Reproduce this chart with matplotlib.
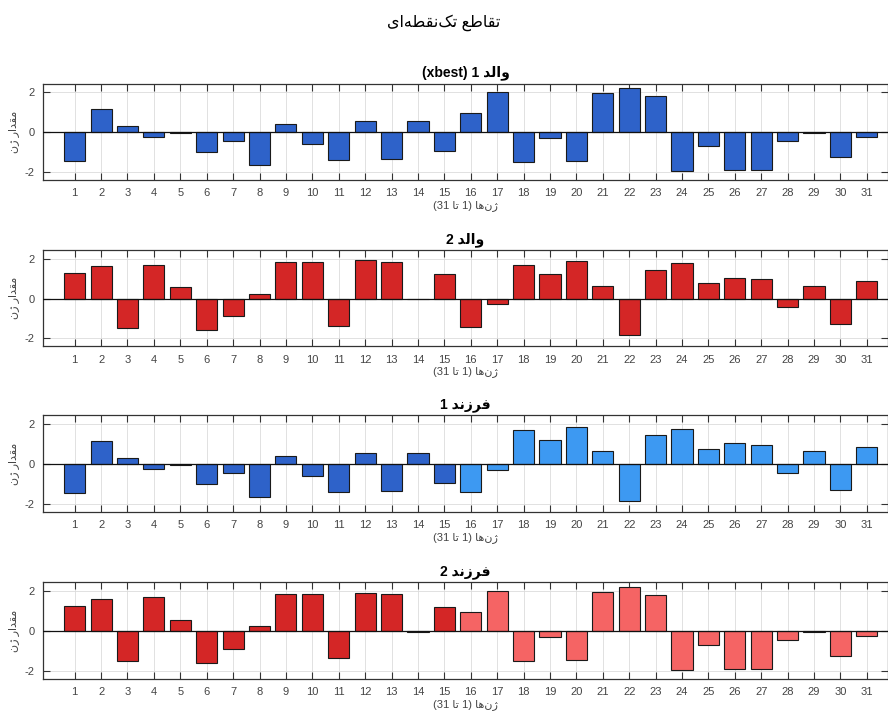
import numpy as np
import matplotlib.pyplot as plt

# =========================
# DATA
# =========================
genes = list(range(1, 32))

parent1 = [-1.45, 1.16, 0.29, -0.26, -0.05, -1.00, -0.43, -1.63, 0.41, -0.60,
           -1.40, 0.58, -1.34, 0.58, -0.94, 0.99, 2.04, -1.50, -0.31, -1.45,
           1.97, 2.20, 1.80, -1.96, -0.70, -1.90, -1.90, -0.43, -0.03, -1.24, -0.26]

parent2 = [1.29, 1.63, -1.48, 1.70, 0.58, -1.60, -0.89, 0.24, 1.85, 1.85,
           -1.36, 1.92, 1.85, -0.03, 1.24, -1.42, -0.29, 1.70, 1.24, 1.87,
           0.64, -1.84, 1.46, 1.77, 0.76, 1.05, 0.98, -0.43, 0.64, -1.29, 0.88]

child1 = [-1.45, 1.16, 0.29, -0.26, -0.05, -1.00, -0.43, -1.63, 0.41, -0.60,
          -1.40, 0.58, -1.34, 0.58, -0.94, -1.42, -0.29, 1.70, 1.24, 1.87,
          0.64, -1.84, 1.46, 1.77, 0.76, 1.05, 0.98, -0.43, 0.64, -1.29, 0.88]

child2 = [1.29, 1.63, -1.48, 1.70, 0.58, -1.60, -0.89, 0.24, 1.85, 1.85,
          -1.36, 1.92, 1.85, -0.03, 1.24, 0.99, 2.04, -1.50, -0.31, -1.45,
          1.97, 2.20, 1.80, -1.96, -0.70, -1.90, -1.90, -0.43, -0.03, -1.24, -0.26]

cut_point = 15   # genes 1..15 come from the first parent

# =========================
# PERSIAN TEXT (manual shaping, matplotlib has no bidi)
# =========================
FORMS = {  # isolated, final, initial, medial
    'ا': ('\uFE8D', '\uFE8E', None, None),
    'د': ('\uFEA9', '\uFEAA', None, None),
    'ر': ('\uFEAD', '\uFEAE', None, None),
    'ز': ('\uFEAF', '\uFEB0', None, None),
    'ژ': ('\uFB8A', '\uFB8B', None, None),
    'و': ('\uFEED', '\uFEEE', None, None),
    'ت': ('\uFE95', '\uFE96', '\uFE97', '\uFE98'),
    'ط': ('\uFEC1', '\uFEC2', '\uFEC3', '\uFEC4'),
    'ع': ('\uFEC9', '\uFECA', '\uFECB', '\uFECC'),
    'ف': ('\uFED1', '\uFED2', '\uFED3', '\uFED4'),
    'ق': ('\uFED5', '\uFED6', '\uFED7', '\uFED8'),
    'ک': ('\uFB8E', '\uFB8F', '\uFB90', '\uFB91'),
    'ل': ('\uFEDD', '\uFEDE', '\uFEDF', '\uFEE0'),
    'م': ('\uFEE1', '\uFEE2', '\uFEE3', '\uFEE4'),
    'ن': ('\uFEE5', '\uFEE6', '\uFEE7', '\uFEE8'),
    'ه': ('\uFEE9', '\uFEEA', '\uFEEB', '\uFEEC'),
    'ی': ('\uFBFC', '\uFBFD', '\uFBFE', '\uFBFF'),
}


def fa(text):
    out = []
    for i, ch in enumerate(text):
        if ch not in FORMS:
            out.append(ch)
            continue
        prev = text[i - 1] if i > 0 else ''
        nxt = text[i + 1] if i + 1 < len(text) else ''
        join_prev = prev in FORMS and FORMS[prev][2] is not None
        join_next = FORMS[ch][2] is not None and nxt in FORMS
        iso, fin, ini, med = FORMS[ch]
        if join_prev and join_next:
            out.append(med)
        elif join_prev:
            out.append(fin)
        elif join_next:
            out.append(ini)
        else:
            out.append(iso)
    return ''.join(c for c in out if c != '\u200c')[::-1]


suptitle = fa('تقاطع تک\u200cنقطه\u200cای')
titles = ['(xbest) 1 ' + fa('والد'), '2 ' + fa('والد'),
          '1 ' + fa('فرزند'), '2 ' + fa('فرزند')]
xlabel = '(31 ' + fa('تا') + ' 1) ' + fa('ژن\u200cها')
ylabel = fa('مقدار ژن')

# =========================
# COLORS
# =========================
blue = '#2E62C9'
red = '#D42626'
light_blue = '#3D99F2'
light_red = '#F56464'

colors = [
    [blue] * 31,
    [red] * 31,
    [blue] * cut_point + [light_blue] * (31 - cut_point),
    [red] * cut_point + [light_red] * (31 - cut_point),
]
series = [parent1, parent2, child1, child2]

# =========================
# PLOT
# =========================
plt.rcParams['font.family'] = ['Liberation Sans', 'DejaVu Sans']
plt.rcParams['axes.unicode_minus'] = False

fig = plt.figure(figsize=(8.88, 7.2), dpi=100)
fig.text(0.5, 0.968, suptitle, ha='center', va='center', fontsize=11.5)

positions = [0.750, 0.519, 0.289, 0.057]
for k in range(4):
    ax = fig.add_axes([0.0484, positions[k], 0.9516, 0.134])
    ax.bar(genes, series[k], width=0.8, color=colors[k],
           edgecolor='#1a1a1a', linewidth=0.8, zorder=3)
    ax.axhline(0, color='#111111', lw=0.9, zorder=4)
    ax.set_xlim(-0.2, 31.8)
    ax.set_ylim(-2.4, 2.45)
    ax.set_xticks(genes)
    ax.set_yticks([-2, 0, 2])
    ax.grid(True, color='#dcdcdc', lw=0.6, zorder=0)
    ax.set_axisbelow(True)
    ax.tick_params(direction='in', top=True, right=True, length=5,
                   width=0.8, color='#333333', labelsize=8,
                   labelcolor='#444444', pad=6)
    for s in ax.spines.values():
        s.set_color('#333333')
        s.set_linewidth(0.9)
    ax.set_title(titles[k], fontsize=10, fontweight='bold', pad=5)
    ax.set_xlabel(xlabel, fontsize=8, color='#444444', labelpad=1)
    ax.set_ylabel(ylabel, fontsize=8, color='#444444', labelpad=4)

plt.savefig('out.png', dpi=100)
